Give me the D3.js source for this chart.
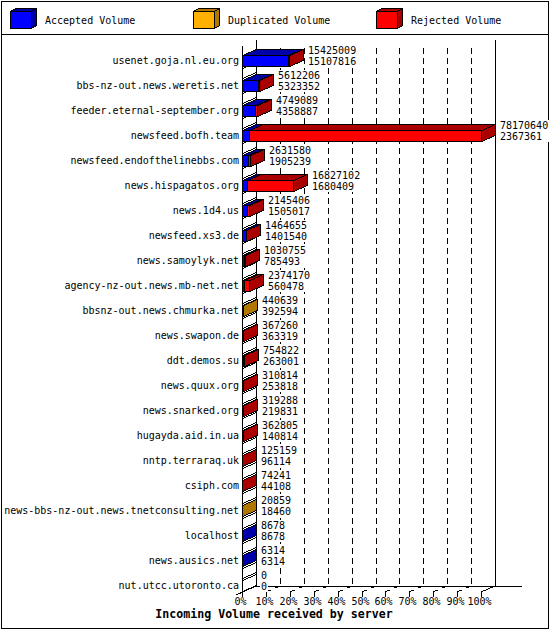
<!DOCTYPE html>
<html><head><meta charset="utf-8">
<script src="https://cdn.jsdelivr.net/npm/d3@7"></script>
<style>body{margin:0;background:#fff}svg{display:block}</style>
</head><body>
<svg id="c" width="550" height="630"></svg>
<script>
const servers = ["usenet.goja.nl.eu.org","bbs-nz-out.news.weretis.net","feeder.eternal-september.org","newsfeed.bofh.team","newsfeed.endofthelinebbs.com","news.hispagatos.org","news.1d4.us","newsfeed.xs3.de","news.samoylyk.net","agency-nz-out.news.mb-net.net","bbsnz-out.news.chmurka.net","news.swapon.de","ddt.demos.su","news.quux.org","news.snarked.org","hugayda.aid.in.ua","nntp.terraraq.uk","csiph.com","news-bbs-nz-out.news.tnetconsulting.net","localhost","news.ausics.net","nut.utcc.utoronto.ca"];
const accepted   = [15107816,5323352,4358887,2367361,1905239,1680409,1505017,1401540,785493,560478,392594,363319,263001,253818,219831,140814,96114,44108,18460,8678,6314,0];
const duplicated = [0,0,0,0,0,0,0,0,0,0,48045,0,0,0,0,0,0,0,2399,0,0,0];
const rejected   = [317193,288854,390202,75803279,726341,15146693,640389,63115,245262,1813692,0,3941,491821,56996,99457,221991,29045,30133,0,0,0,0];
const percentTicks = [0,10,20,30,40,50,60,70,80,90,100];
const seriesNames = ["Accepted Volume","Duplicated Volume","Rejected Volume"];
const seriesFront = ["#0000ff","#ffb000","#ff0000"];
const seriesDark  = ["#0000aa","#b07800","#aa0000"];
const title = "Incoming Volume received by server";

const svg = d3.select("#c");
const FONT = "'DejaVu Sans Mono', monospace";
const X0 = 242, X1 = 481, DX = 14, DY = -6;
const FRONT_TOP = 46, FLOOR = 592;

const total = servers.map((s, i) => accepted[i] + duplicated[i] + rejected[i]);
const maxTotal = d3.max(total);
const xv = d3.scaleLinear().domain([0, maxTotal]).range([X0, X1]);
const xp = d3.scaleLinear().domain([0, 100]).range([X0, X1]);
const y = d3.scaleBand().domain(servers).range([47.5, 597.5]);
const cyOf = s => y(s) + y.bandwidth() / 2;

const g = svg.append("g").attr("shape-rendering", "crispEdges");

// outer border & legend separator
g.append("rect").attr("x", 1.5).attr("y", 1.5).attr("width", 547).attr("height", 627)
  .attr("fill", "#fff").attr("stroke", "#000");
g.append("line").attr("x1", 1).attr("x2", 548).attr("y1", 34.5).attr("y2", 34.5).attr("stroke", "#000");

// legend
const legendX = [10, 193, 376];
seriesNames.forEach((name, k) => {
  const lx = legendX[k], ly = 11, w = 21, h = 17, dx = 5, dy = -3;
  const lg = g.append("g");
  lg.append("polygon").attr("points", [[lx, ly], [lx + dx, ly + dy], [lx + w + dx, ly + dy], [lx + w, ly]].map(p => p.map(v => v + 0.5).join(",")).join(" "))
    .attr("fill", seriesDark[k]).attr("stroke", "#000");
  lg.append("polygon").attr("points", [[lx + w, ly], [lx + w + dx, ly + dy], [lx + w + dx, ly + h + dy], [lx + w, ly + h]].map(p => p.map(v => v + 0.5).join(",")).join(" "))
    .attr("fill", seriesDark[k]).attr("stroke", "#000");
  lg.append("rect").attr("x", lx + 0.5).attr("y", ly + 0.5).attr("width", w).attr("height", h)
    .attr("fill", seriesFront[k]).attr("stroke", "#000");
  svg.append("text").attr("x", lx + 35).attr("y", 24).attr("font-family", FONT).attr("font-size", "10px")
    .attr("fill", "#000").text(name);
});

// walls
const line = (x1, y1, x2, y2, dash) => {
  const l = g.append("line").attr("x1", x1).attr("y1", y1).attr("x2", x2).attr("y2", y2).attr("stroke", "#000");
  if (dash) l.attr("stroke-dasharray", dash);
  return l;
};
line(X0 + DX + 0.5, FRONT_TOP + DY, X0 + DX + 0.5, FLOOR + DY);
line(X1 + DX + 0.5, FRONT_TOP + DY, X1 + DX + 0.5, FLOOR + DY);
line(X0 + DX, FLOOR + DY + 0.5, 522, FLOOR + DY + 0.5);
line(236, FLOOR + 3, X0 + DX, FLOOR + DY);
line(X1, FLOOR, X1 + DX, FLOOR + DY);

// gridlines (back wall) and floor lines
percentTicks.forEach(t => {
  const xf = Math.round(xp(t));
  if (t > 0 && t < 100) {
    line(xf + DX + 0.5, 48, xf + DX + 0.5, FLOOR + DY, "6,4");
    line(xf, FLOOR, xf + DX, FLOOR + DY, "6,4");
  }
  line(xf + 0.5, FLOOR, xf + 0.5, FLOOR + 5);
  svg.append("text").attr("x", xf - 1.5).attr("y", 604.5).attr("text-anchor", "middle")
    .attr("font-family", FONT).attr("font-size", "10px").attr("fill", "#000").text(t + "%");
});

// front-left axis
line(X0 + 0.5, FRONT_TOP, X0 + 0.5, FLOOR);

// left wall bands
servers.forEach((s, i) => {
  if (i === servers.length - 1) return;
  const cy = Math.round(cyOf(s));
  const a = cy + 8, b = cy + 18;
  g.append("polygon").attr("points", [[X0, a], [X0 + DX, a + DY], [X0 + DX, b + DY], [X0, b]].map(p => p.map(v => v + 0.5).join(",")).join(" "))
    .attr("fill", "#fff").attr("stroke", "#000");
});

// bars
function box(xa, xb, yt, yb, front, dark) {
  const bg = g.append("g");
  const P = pts => pts.map(p => p.map(v => v + 0.5).join(",")).join(" ");
  bg.append("polygon").attr("points", P([[xa, yt], [xa + DX, yt + DY], [xb + DX, yt + DY], [xb, yt]]))
    .attr("fill", dark).attr("stroke", "#000");
  bg.append("polygon").attr("points", P([[xb, yt], [xb + DX, yt + DY], [xb + DX, yb + DY], [xb, yb]]))
    .attr("fill", dark).attr("stroke", "#000");
  if (xb > xa) {
    bg.append("rect").attr("x", xa + 0.5).attr("y", yt + 0.5).attr("width", xb - xa).attr("height", yb - yt)
      .attr("fill", front).attr("stroke", "#000");
  }
}

servers.forEach((s, i) => {
  const cy = Math.round(cyOf(s));
  const yt = cy - 5, yb = cy + 6;
  const vals = [accepted[i], duplicated[i], rejected[i]];
  let cum = 0;
  if (total[i] === 0) {
    box(X0, X0, yt, yb, "#fff", "#fff");
  } else {
    vals.forEach((v, k) => {
      if (v <= 0) return;
      const xa = Math.round(xv(cum));
      cum += v;
      const xb = Math.round(xv(cum));
      box(xa, xb, yt, yb, seriesFront[k], seriesDark[k]);
    });
  }
  // server label
  svg.append("text").attr("x", 239).attr("y", cy + 3.5).attr("text-anchor", "end")
    .attr("font-family", FONT).attr("font-size", "10px").attr("fill", "#000").text(s);
  // value labels
  const lx = Math.round(xv(total[i])) + DX + 5;
  const t1 = String(total[i]), t2 = String(accepted[i]);
  const wbg = Math.max(t1.length, t2.length) * 6 + 2;
  g.append("rect").attr("x", lx - 1).attr("y", cy - 15).attr("width", wbg).attr("height", 22).attr("fill", "#fff");
  svg.append("text").attr("x", lx).attr("y", cy - 6.5).attr("font-family", FONT).attr("font-size", "10px").attr("fill", "#000").text(t1);
  svg.append("text").attr("x", lx).attr("y", cy + 5).attr("font-family", FONT).attr("font-size", "10px").attr("fill", "#000").text(t2);
});

// title
svg.append("text").attr("x", 274).attr("y", 618).attr("text-anchor", "middle")
  .attr("font-family", FONT).attr("font-size", "11.6px").attr("font-weight", "bold").attr("fill", "#000").text(title);
</script>
</body></html>
